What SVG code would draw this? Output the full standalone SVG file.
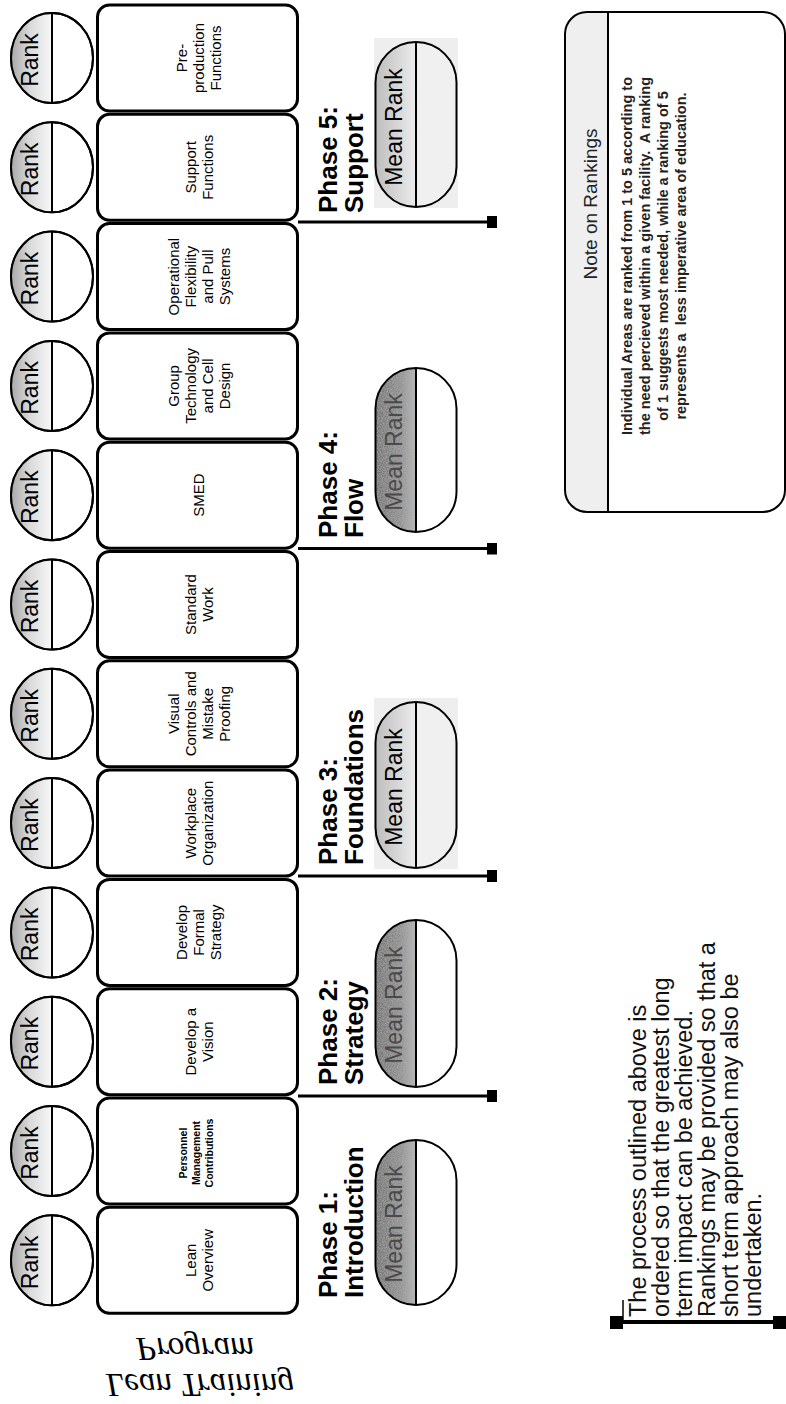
<svg xmlns="http://www.w3.org/2000/svg" width="786" height="1404" viewBox="0 0 786 1404">
<defs>
<linearGradient id="rankGrad" x1="0" y1="0" x2="1" y2="0">
<stop offset="0" stop-color="#a8a8a8"/><stop offset="0.45" stop-color="#d9d9d9"/><stop offset="1" stop-color="#f8f8f8"/>
</linearGradient>
<linearGradient id="lightGrad" x1="0" y1="0" x2="1" y2="0">
<stop offset="0" stop-color="#bdbdbd"/><stop offset="1" stop-color="#ececec"/>
</linearGradient>
<linearGradient id="darkGrad" x1="0" y1="0" x2="1" y2="0">
<stop offset="0" stop-color="#707070"/><stop offset="0.6" stop-color="#8e8e8e"/><stop offset="1" stop-color="#b8b8b8"/>
</linearGradient>
<filter id="mottle" x="0" y="0" width="1" height="1">
<feTurbulence type="fractalNoise" baseFrequency="0.8" numOctaves="2" seed="3" result="n"/>
<feColorMatrix in="n" type="matrix" values="0 0 0 0 0.45  0 0 0 0 0.45  0 0 0 0 0.45  0 0 0 1.2 -0.35" result="g"/>
<feComposite in="g" in2="SourceGraphic" operator="in" result="gn"/>
<feMerge><feMergeNode in="SourceGraphic"/><feMergeNode in="gn"/></feMerge>
</filter>
<marker id="sq" viewBox="0 0 10 12" refX="5" refY="6" markerWidth="10" markerHeight="12" markerUnits="userSpaceOnUse" orient="auto">
<rect x="0" y="0" width="10" height="12" fill="#000"/>
</marker>
<style>
.box{fill:#fff;stroke:#000;stroke-width:3}
.rk{fill:#fff;stroke:#000;stroke-width:2}
.rkh{fill:url(#rankGrad)}
.dv{stroke:#000;stroke-width:2}
.ov{stroke:#000;stroke-width:2}
.dk{fill:url(#darkGrad);filter:url(#mottle)}
.sans{font-family:"Liberation Sans",Arial,sans-serif;fill:#000}
.rt{font-size:23px;text-anchor:middle}
.bt{font-size:15px;text-anchor:middle}
.bs{font-size:10.5px;font-weight:bold;text-anchor:middle}
.ph{font-size:26px;font-weight:bold}
.mr{font-size:23px;text-anchor:middle}
.mrd{fill:#4a4a4a}
.conn{stroke:#000;stroke-width:3;fill:none;marker-end:url(#sq)}
.ttl{font-family:"Liberation Serif","Times New Roman",serif;font-style:italic;font-size:33px;text-anchor:middle}
</style>
</defs>
<rect width="786" height="1404" fill="#fff"/>

<!-- Area nodes (box + rank) -->
<g id="n-preproduction">
<rect class="box" x="97.5" y="5" width="200" height="106" rx="12"/>
<ellipse class="rk" cx="52" cy="58" rx="41" ry="45"/>
<path class="rkh" d="M52,13 A41,45 0 0,0 52,103 Z"/>
<line class="dv" x1="52" y1="13" x2="52" y2="103"/>
<ellipse cx="52" cy="58" rx="41" ry="45" fill="none" stroke="#000" stroke-width="2"/>
<text class="sans rt" transform="translate(38,60) rotate(-90)">Rank</text>
<text class="sans bt" transform="translate(187.4,58) rotate(-90)"><tspan x="0" y="0">Pre-</tspan><tspan x="0" y="17">production</tspan><tspan x="0" y="34">Functions</tspan></text>
</g>
<g id="n-support">
<rect class="box" x="97.5" y="114.3" width="200" height="106" rx="12"/>
<ellipse class="rk" cx="52" cy="167.3" rx="41" ry="45"/>
<path class="rkh" d="M52,122.3 A41,45 0 0,0 52,212.3 Z"/>
<line class="dv" x1="52" y1="122.3" x2="52" y2="212.3"/>
<ellipse cx="52" cy="167.3" rx="41" ry="45" fill="none" stroke="#000" stroke-width="2"/>
<text class="sans rt" transform="translate(38,169.3) rotate(-90)">Rank</text>
<text class="sans bt" transform="translate(195.9,167.3) rotate(-90)"><tspan x="0" y="0">Support</tspan><tspan x="0" y="17">Functions</tspan></text>
</g>
<g id="n-operational">
<rect class="box" x="97.5" y="223.6" width="200" height="106" rx="12"/>
<ellipse class="rk" cx="52" cy="276.6" rx="41" ry="45"/>
<path class="rkh" d="M52,231.6 A41,45 0 0,0 52,321.6 Z"/>
<line class="dv" x1="52" y1="231.6" x2="52" y2="321.6"/>
<ellipse cx="52" cy="276.6" rx="41" ry="45" fill="none" stroke="#000" stroke-width="2"/>
<text class="sans rt" transform="translate(38,278.6) rotate(-90)">Rank</text>
<text class="sans bt" transform="translate(178.9,276.6) rotate(-90)"><tspan x="0" y="0">Operational</tspan><tspan x="0" y="17">Flexibility</tspan><tspan x="0" y="34">and Pull</tspan><tspan x="0" y="51">Systems</tspan></text>
</g>
<g id="n-grouptech">
<rect class="box" x="97.5" y="332.9" width="200" height="106" rx="12"/>
<ellipse class="rk" cx="52" cy="385.9" rx="41" ry="45"/>
<path class="rkh" d="M52,340.9 A41,45 0 0,0 52,430.9 Z"/>
<line class="dv" x1="52" y1="340.9" x2="52" y2="430.9"/>
<ellipse cx="52" cy="385.9" rx="41" ry="45" fill="none" stroke="#000" stroke-width="2"/>
<text class="sans rt" transform="translate(38,387.9) rotate(-90)">Rank</text>
<text class="sans bt" transform="translate(178.9,385.9) rotate(-90)"><tspan x="0" y="0">Group</tspan><tspan x="0" y="17">Technology</tspan><tspan x="0" y="34">and Cell</tspan><tspan x="0" y="51">Design</tspan></text>
</g>
<g id="n-smed">
<rect class="box" x="97.5" y="442.2" width="200" height="106" rx="12"/>
<ellipse class="rk" cx="52" cy="495.2" rx="41" ry="45"/>
<path class="rkh" d="M52,450.2 A41,45 0 0,0 52,540.2 Z"/>
<line class="dv" x1="52" y1="450.2" x2="52" y2="540.2"/>
<ellipse cx="52" cy="495.2" rx="41" ry="45" fill="none" stroke="#000" stroke-width="2"/>
<text class="sans rt" transform="translate(38,497.2) rotate(-90)">Rank</text>
<text class="sans bt" transform="translate(204.4,495.2) rotate(-90)">SMED</text>
</g>
<g id="n-standardwork">
<rect class="box" x="97.5" y="551.5" width="200" height="106" rx="12"/>
<ellipse class="rk" cx="52" cy="604.5" rx="41" ry="45"/>
<path class="rkh" d="M52,559.5 A41,45 0 0,0 52,649.5 Z"/>
<line class="dv" x1="52" y1="559.5" x2="52" y2="649.5"/>
<ellipse cx="52" cy="604.5" rx="41" ry="45" fill="none" stroke="#000" stroke-width="2"/>
<text class="sans rt" transform="translate(38,606.5) rotate(-90)">Rank</text>
<text class="sans bt" transform="translate(195.9,604.5) rotate(-90)"><tspan x="0" y="0">Standard</tspan><tspan x="0" y="17">Work</tspan></text>
</g>
<g id="n-visual">
<rect class="box" x="97.5" y="660.8" width="200" height="106" rx="12"/>
<ellipse class="rk" cx="52" cy="713.8" rx="41" ry="45"/>
<path class="rkh" d="M52,668.8 A41,45 0 0,0 52,758.8 Z"/>
<line class="dv" x1="52" y1="668.8" x2="52" y2="758.8"/>
<ellipse cx="52" cy="713.8" rx="41" ry="45" fill="none" stroke="#000" stroke-width="2"/>
<text class="sans rt" transform="translate(38,715.8) rotate(-90)">Rank</text>
<text class="sans bt" transform="translate(178.9,713.8) rotate(-90)"><tspan x="0" y="0">Visual</tspan><tspan x="0" y="17">Controls and</tspan><tspan x="0" y="34">Mistake</tspan><tspan x="0" y="51">Proofing</tspan></text>
</g>
<g id="n-workplace">
<rect class="box" x="97.5" y="770.1" width="200" height="106" rx="12"/>
<ellipse class="rk" cx="52" cy="823.1" rx="41" ry="45"/>
<path class="rkh" d="M52,778.1 A41,45 0 0,0 52,868.1 Z"/>
<line class="dv" x1="52" y1="778.1" x2="52" y2="868.1"/>
<ellipse cx="52" cy="823.1" rx="41" ry="45" fill="none" stroke="#000" stroke-width="2"/>
<text class="sans rt" transform="translate(38,825.1) rotate(-90)">Rank</text>
<text class="sans bt" transform="translate(195.9,823.1) rotate(-90)"><tspan x="0" y="0">Workplace</tspan><tspan x="0" y="17">Organization</tspan></text>
</g>
<g id="n-formalstrategy">
<rect class="box" x="97.5" y="879.4" width="200" height="106" rx="12"/>
<ellipse class="rk" cx="52" cy="932.4" rx="41" ry="45"/>
<path class="rkh" d="M52,887.4 A41,45 0 0,0 52,977.4 Z"/>
<line class="dv" x1="52" y1="887.4" x2="52" y2="977.4"/>
<ellipse cx="52" cy="932.4" rx="41" ry="45" fill="none" stroke="#000" stroke-width="2"/>
<text class="sans rt" transform="translate(38,934.4) rotate(-90)">Rank</text>
<text class="sans bt" transform="translate(187.4,932.4) rotate(-90)"><tspan x="0" y="0">Develop</tspan><tspan x="0" y="17">Formal</tspan><tspan x="0" y="34">Strategy</tspan></text>
</g>
<g id="n-vision">
<rect class="box" x="97.5" y="988.7" width="200" height="106" rx="12"/>
<ellipse class="rk" cx="52" cy="1041.7" rx="41" ry="45"/>
<path class="rkh" d="M52,996.7 A41,45 0 0,0 52,1086.7 Z"/>
<line class="dv" x1="52" y1="996.7" x2="52" y2="1086.7"/>
<ellipse cx="52" cy="1041.7" rx="41" ry="45" fill="none" stroke="#000" stroke-width="2"/>
<text class="sans rt" transform="translate(38,1043.7) rotate(-90)">Rank</text>
<text class="sans bt" transform="translate(195.9,1041.7) rotate(-90)"><tspan x="0" y="0">Develop a</tspan><tspan x="0" y="17">Vision</tspan></text>
</g>
<g id="n-personnel">
<rect class="box" x="97.5" y="1098" width="200" height="106" rx="12"/>
<ellipse class="rk" cx="52" cy="1151" rx="41" ry="45"/>
<path class="rkh" d="M52,1106 A41,45 0 0,0 52,1196 Z"/>
<line class="dv" x1="52" y1="1106" x2="52" y2="1196"/>
<ellipse cx="52" cy="1151" rx="41" ry="45" fill="none" stroke="#000" stroke-width="2"/>
<text class="sans rt" transform="translate(38,1153) rotate(-90)">Rank</text>
<text class="sans bs" transform="translate(187,1153) rotate(-90)"><tspan x="0" y="0">Personnel</tspan><tspan x="0" y="13">Management</tspan><tspan x="0" y="26">Contributions</tspan></text>
</g>
<g id="n-leanoverview">
<rect class="box" x="97.5" y="1207.3" width="200" height="106" rx="12"/>
<ellipse class="rk" cx="52" cy="1260.3" rx="41" ry="45"/>
<path class="rkh" d="M52,1215.3 A41,45 0 0,0 52,1305.3 Z"/>
<line class="dv" x1="52" y1="1215.3" x2="52" y2="1305.3"/>
<ellipse cx="52" cy="1260.3" rx="41" ry="45" fill="none" stroke="#000" stroke-width="2"/>
<text class="sans rt" transform="translate(38,1262.3) rotate(-90)">Rank</text>
<text class="sans bt" transform="translate(195.9,1260.3) rotate(-90)"><tspan x="0" y="0">Lean</tspan><tspan x="0" y="17">Overview</tspan></text>
</g>

<!-- Phase nodes (label + mean rank oval) -->
<g id="phase5">
<rect x="374" y="38" width="84" height="170" fill="#eeeeee"/>
<rect x="375.5" y="42" width="81" height="165" rx="40.5" fill="#f0f0f0"/>
<path d="M416,42 A40.5,40.5 0 0,0 375.5,82.5 L375.5,166.5 A40.5,40.5 0 0,0 416,207 Z" fill="url(#lightGrad)"/>
<rect class="ov" x="375.5" y="42" width="81" height="165" rx="40.5" fill="none"/>
<line class="dv" x1="416" y1="42" x2="416" y2="207"/>
<text class="sans mr" transform="translate(402,127) rotate(-90)">Mean Rank</text>
<text class="sans ph" transform="translate(337,213) rotate(-90)"><tspan x="0" y="0">Phase 5:</tspan><tspan x="0" y="26">Support</tspan></text>
</g>
<g id="phase4">
<rect x="375.5" y="368" width="81" height="164" rx="40.5" fill="#fff"/>
<path class="dk" d="M416,368 A40.5,40.5 0 0,0 375.5,408.5 L375.5,491.5 A40.5,40.5 0 0,0 416,532 Z"/>
<rect class="ov" x="375.5" y="368" width="81" height="164" rx="40.5" fill="none"/>
<line class="dv" x1="416" y1="368" x2="416" y2="532"/>
<text class="sans mr mrd" transform="translate(402,452) rotate(-90)">Mean Rank</text>
<text class="sans ph" transform="translate(337,538) rotate(-90)"><tspan x="0" y="0">Phase 4:</tspan><tspan x="0" y="26">Flow</tspan></text>
</g>
<g id="phase3">
<rect x="374" y="698" width="84" height="171" fill="#eeeeee"/>
<rect x="375.5" y="702" width="81" height="166" rx="40.5" fill="#f0f0f0"/>
<path d="M416,702 A40.5,40.5 0 0,0 375.5,742.5 L375.5,827.5 A40.5,40.5 0 0,0 416,868 Z" fill="url(#lightGrad)"/>
<rect class="ov" x="375.5" y="702" width="81" height="166" rx="40.5" fill="none"/>
<line class="dv" x1="416" y1="702" x2="416" y2="868"/>
<text class="sans mr" transform="translate(402,787) rotate(-90)">Mean Rank</text>
<text class="sans ph" transform="translate(337,865) rotate(-90)"><tspan x="0" y="0">Phase 3:</tspan><tspan x="0" y="26">Foundations</tspan></text>
</g>
<g id="phase2">
<rect x="375.5" y="920" width="81" height="167" rx="40.5" fill="#fff"/>
<path class="dk" d="M416,920 A40.5,40.5 0 0,0 375.5,960.5 L375.5,1046.5 A40.5,40.5 0 0,0 416,1087 Z"/>
<rect class="ov" x="375.5" y="920" width="81" height="167" rx="40.5" fill="none"/>
<line class="dv" x1="416" y1="920" x2="416" y2="1087"/>
<text class="sans mr mrd" transform="translate(402,1005) rotate(-90)">Mean Rank</text>
<text class="sans ph" transform="translate(337,1085) rotate(-90)"><tspan x="0" y="0">Phase 2:</tspan><tspan x="0" y="26">Strategy</tspan></text>
</g>
<g id="phase1">
<rect x="375.5" y="1140" width="81" height="165" rx="40.5" fill="#fff"/>
<path class="dk" d="M416,1140 A40.5,40.5 0 0,0 375.5,1180.5 L375.5,1264.5 A40.5,40.5 0 0,0 416,1305 Z"/>
<rect class="ov" x="375.5" y="1140" width="81" height="165" rx="40.5" fill="none"/>
<line class="dv" x1="416" y1="1140" x2="416" y2="1305"/>
<text class="sans mr mrd" transform="translate(402,1224) rotate(-90)">Mean Rank</text>
<text class="sans ph" transform="translate(337,1298) rotate(-90)"><tspan x="0" y="0">Phase 1:</tspan><tspan x="0" y="26">Introduction</tspan></text>
</g>

<!-- Connectors: phase boundary lines -->
<g id="connectors">
<line class="conn" x1="298" y1="222" x2="492" y2="222"/>
<line class="conn" x1="298" y1="548.5" x2="492" y2="548.5"/>
<line class="conn" x1="298" y1="876" x2="492" y2="876"/>
<line class="conn" x1="298" y1="1096" x2="492" y2="1096"/>
</g>

<!-- Note on Rankings -->
<g id="note">
<rect x="565" y="12" width="220" height="500" rx="22" fill="#fff"/>
<path d="M608,12 L587,12 A22,22 0 0,0 565,34 L565,490 A22,22 0 0,0 587,512 L608,512 Z" fill="#efefef"/>
<rect x="565" y="12" width="220" height="500" rx="22" fill="none" stroke="#000" stroke-width="2"/>
<line x1="608" y1="12" x2="608" y2="512" stroke="#000" stroke-width="2"/>
<text class="sans" style="font-size:19px;text-anchor:middle;fill:#222" transform="translate(597,204) rotate(-90)">Note on Rankings</text>
<text class="sans" xml:space="preserve" style="font-size:14.5px;font-weight:bold;text-anchor:middle;fill:#222" transform="translate(632,256) rotate(-90)"><tspan x="0" y="0">Individual Areas are ranked from 1 to 5 according to</tspan><tspan x="0" y="18">the need percieved within a given facility.  A ranking</tspan><tspan x="0" y="36">of 1 suggests most needed, while a ranking of 5</tspan><tspan x="0" y="54">represents a  less imperative area of education.</tspan></text>
</g>

<!-- Bottom comment -->
<g id="comment">
<line x1="617" y1="1322" x2="780" y2="1322" stroke="#000" stroke-width="4"/>
<rect x="610" y="1316" width="13" height="13" fill="#000"/>
<rect x="773" y="1316" width="13" height="13" fill="#000"/>
<line x1="623" y1="1300" x2="623" y2="1320" stroke="#000" stroke-width="1.5"/>
<text class="sans" style="font-size:23.5px;fill:#111" transform="translate(646,1317) rotate(-90)"><tspan x="0" y="0">The process outlined above is</tspan><tspan x="0" y="23">ordered so that the greatest long</tspan><tspan x="0" y="46">term impact can be achieved.</tspan><tspan x="0" y="69">Rankings may be provided so that a</tspan><tspan x="0" y="92">short term approach may also be</tspan><tspan x="0" y="115">undertaken.</tspan></text>
</g>

<!-- Title -->
<g id="title">
<text class="ttl" transform="translate(195,1338) scale(1,-1)">Program</text>
<text class="ttl" transform="translate(200,1374) scale(1,-1)">Lean Training</text>
</g>
</svg>
